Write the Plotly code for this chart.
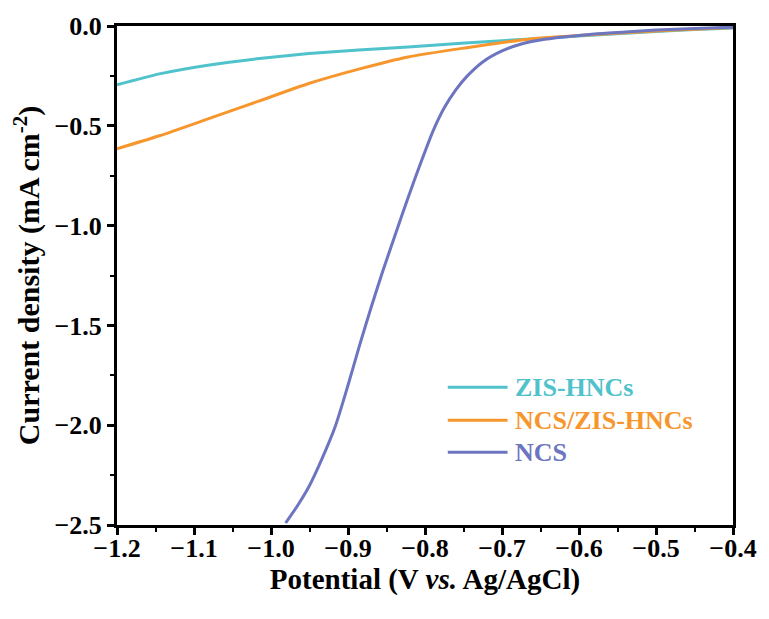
import plotly.graph_objects as go

# Linear sweep voltammetry curves (current density vs. potential)
potential_zis = [-1.2, -1.145, -1.08, -1.015, -0.951, -0.886, -0.822, -0.748, -0.663, -0.59, -0.5, -0.45, -0.4]
current_zis = [-0.295, -0.24, -0.195, -0.163, -0.138, -0.12, -0.105, -0.085, -0.065, -0.047, -0.028, -0.018, -0.01]

potential_ncs_zis = [-1.2, -1.145, -1.08, -1.015, -0.951, -0.886, -0.822, -0.748, -0.663, -0.59, -0.5, -0.45, -0.4]
current_ncs_zis = [-0.615, -0.55, -0.463, -0.375, -0.288, -0.216, -0.155, -0.11, -0.065, -0.045, -0.025, -0.016, -0.008]

potential_ncs = [-0.981, -0.965, -0.951, -0.934, -0.916, -0.900, -0.885, -0.870, -0.855, -0.839,
                 -0.822, -0.805, -0.790, -0.775, -0.760, -0.745, -0.725, -0.700, -0.675, -0.650,
                 -0.620, -0.580, -0.540, -0.500, -0.450, -0.400]
current_ncs = [-2.49, -2.40, -2.31, -2.17, -2.00, -1.80, -1.60, -1.41, -1.23, -1.05,
               -0.86, -0.68, -0.53, -0.41, -0.32, -0.25, -0.18, -0.125, -0.09, -0.07,
               -0.055, -0.04, -0.03, -0.02, -0.012, -0.006]

series_names = ["ZIS-HNCs", "NCS/ZIS-HNCs", "NCS"]
series_colors = ["#4FC2CB", "#F7962C", "#6C75BF"]

x_ticks = [-1.2, -1.1, -1.0, -0.9, -0.8, -0.7, -0.6, -0.5, -0.4]
y_ticks = [0.0, -0.5, -1.0, -1.5, -2.0, -2.5]

FONT = "Times New Roman, Liberation Serif, serif"

fig = go.Figure()
for xs, ys, name, color in [
    (potential_zis, current_zis, series_names[0], series_colors[0]),
    (potential_ncs_zis, current_ncs_zis, series_names[1], series_colors[1]),
    (potential_ncs, current_ncs, series_names[2], series_colors[2]),
]:
    fig.add_trace(go.Scatter(x=xs, y=ys, mode="lines", name=name,
                             line=dict(color=color, width=3, shape="spline", smoothing=0.6),
                             showlegend=False))

# Legend: colored line samples with matching bold labels
legend_y = [0.276, 0.21, 0.146]
for name, color, ly in zip(series_names, series_colors, legend_y):
    fig.add_shape(type="line", xref="paper", yref="paper",
                  x0=0.537, x1=0.634, y0=ly, y1=ly,
                  line=dict(color=color, width=3))
    fig.add_annotation(xref="paper", yref="paper", x=0.643, y=ly, text=f"<b>{name}</b>",
                       showarrow=False, xanchor="left", yanchor="middle",
                       font=dict(family=FONT, size=26, color=color))

axis_common = dict(
    showline=True, linecolor="black", linewidth=3, mirror=True,
    ticks="outside", ticklen=7, tickwidth=3, tickcolor="black",
    showgrid=False, zeroline=False,
    tickfont=dict(family=FONT, size=26, color="black", weight="bold"),
)

fig.update_xaxes(range=[-1.2, -0.4], tickvals=x_ticks,
                 ticktext=[f"\u2212{abs(v):.1f}" for v in x_ticks],
                 ticklabelstandoff=-9,
                 minor=dict(dtick=0.05, ticks="outside", ticklen=4, tickwidth=2, tickcolor="black"),
                 title=dict(text="<b>Potential (V <i>vs.</i> Ag/AgCl)</b>", standoff=0,
                            font=dict(family=FONT, size=29, color="black")),
                 **axis_common)
fig.update_yaxes(range=[-2.5, 0.0], tickvals=y_ticks,
                 ticktext=["0.0"] + [f"\u2212{abs(v):.1f}" for v in y_ticks[1:]],
                 minor=dict(dtick=0.25, ticks="outside", ticklen=4, tickwidth=2, tickcolor="black"),
                 title=dict(text="<b>Current density (mA cm<sup>-2</sup>)</b>", standoff=6,
                            font=dict(family=FONT, size=30, color="black")),
                 **axis_common)

fig.update_layout(
    width=769, height=619,
    margin=dict(l=117, r=32, t=25, b=94),
    paper_bgcolor="white", plot_bgcolor="white",
    font=dict(family=FONT, size=24, color="black"),
    showlegend=False,
)

fig.write_html("out.html")
